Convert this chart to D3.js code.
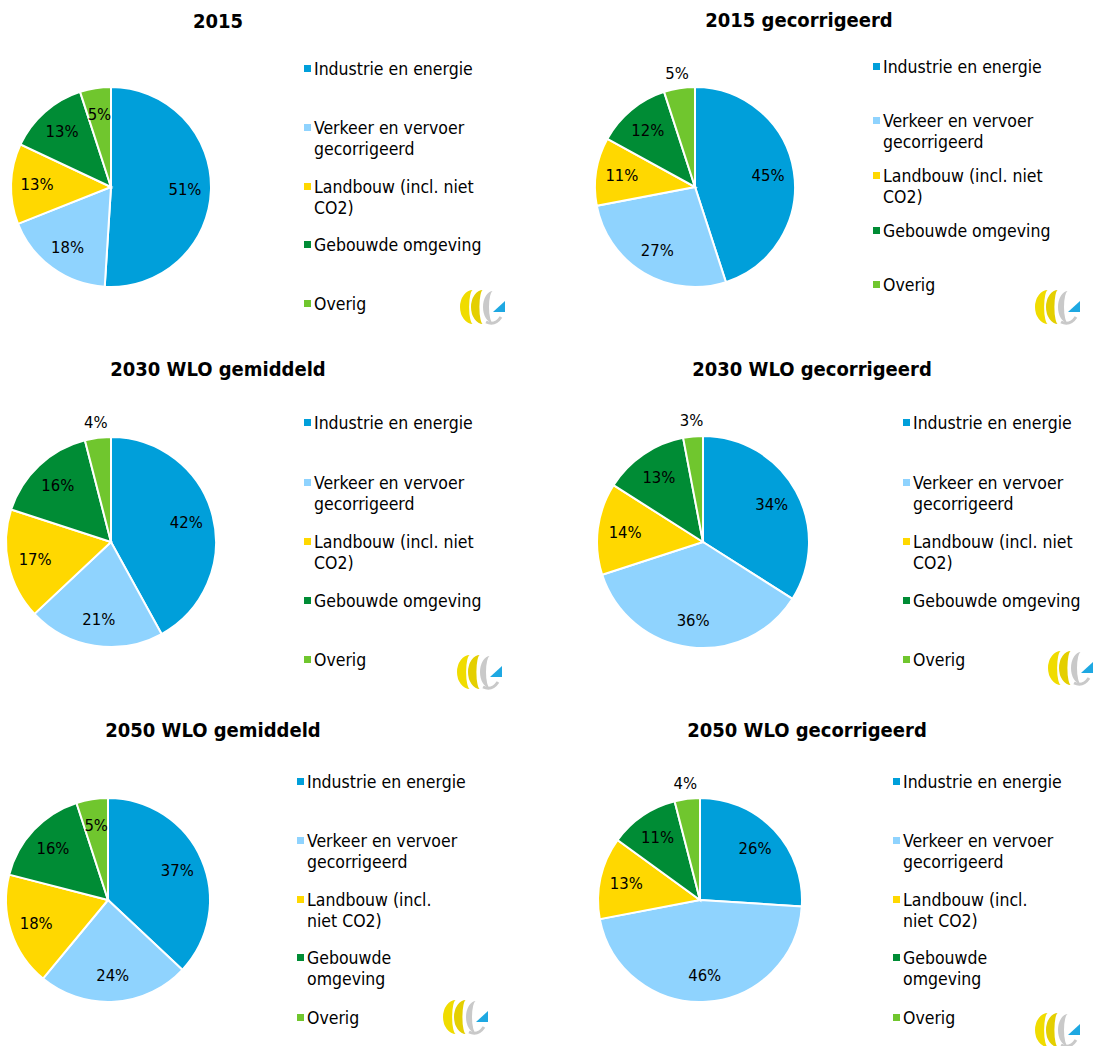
<!DOCTYPE html>
<html>
<head>
<meta charset="utf-8">
<script src="https://cdn.jsdelivr.net/npm/d3@7"></script>
<style>
  body { margin: 0; background: #fff; }
  svg text { font-family: "DejaVu Sans Condensed", "DejaVu Sans", sans-serif; fill: #000; }
</style>
</head>
<body>
<div id="chart"></div>
<script>
// categories (legend text, with the line breaks used in the source)
const categories = ['Industrie en energie', 'Verkeer en vervoer gecorrigeerd', 'Landbouw (incl. niet CO2)', 'Gebouwde omgeving', 'Overig'];
const legendLinesWide = [['Industrie en energie'], ['Verkeer en vervoer', 'gecorrigeerd'], ['Landbouw (incl. niet', 'CO2)'], ['Gebouwde omgeving'], ['Overig']];
const legendLinesNarrow = [['Industrie en energie'], ['Verkeer en vervoer', 'gecorrigeerd'], ['Landbouw (incl.', 'niet CO2)'], ['Gebouwde', 'omgeving'], ['Overig']];
const colors = ['#009fda', '#8fd3fe', '#ffd800', '#008c35', '#70c62e'];

const titles = ['2015', '2015 gecorrigeerd', '2030 WLO gemiddeld', '2030 WLO gecorrigeerd', '2050 WLO gemiddeld', '2050 WLO gecorrigeerd'];

// shares in %, order follows categories
const shares2015 = [51, 18, 13, 13, 5];
const shares2015Corr = [45, 27, 11, 12, 5];
const shares2030Avg = [42, 21, 17, 16, 4];
const shares2030Corr = [34, 36, 14, 13, 3];
const shares2050Avg = [37, 24, 18, 16, 5];
const shares2050Corr = [26, 46, 13, 11, 4];

// layout of each panel
const panels = [
  { title: titles[0], values: shares2015, cx: 111, cy: 187, r: 100, tx: 218, ty: 21,
    lx: 314, ly: [69, 128, 187, 245, 304], legend: legendLinesWide, outside: [], logo: [480, 307] },
  { title: titles[1], values: shares2015Corr, cx: 695, cy: 187, r: 100, tx: 799, ty: 20,
    lx: 883, ly: [67, 121, 176, 231, 285], legend: legendLinesWide, outside: [4], logo: [1055, 307] },
  { title: titles[2], values: shares2030Avg, cx: 111, cy: 542, r: 105, tx: 218, ty: 369,
    lx: 314, ly: [423, 483, 542, 601, 660], legend: legendLinesWide, outside: [4], logo: [477, 672] },
  { title: titles[3], values: shares2030Corr, cx: 703, cy: 542, r: 106, tx: 812, ty: 369,
    lx: 913, ly: [423, 483, 542, 601, 660], legend: legendLinesWide, outside: [4], logo: [1068, 668] },
  { title: titles[4], values: shares2050Avg, cx: 108, cy: 900, r: 102, tx: 213, ty: 730,
    lx: 307, ly: [782, 841, 900, 958, 1018], legend: legendLinesNarrow, outside: [], logo: [463, 1017] },
  { title: titles[5], values: shares2050Corr, cx: 700, cy: 900, r: 102, tx: 807, ty: 730,
    lx: 903, ly: [782, 841, 900, 958, 1018], legend: legendLinesNarrow, outside: [4], logo: [1055, 1030] }
];

const width = 1096, height = 1046;
const lineH = 21;

const svg = d3.select('#chart').append('svg')
  .attr('width', width)
  .attr('height', height);

const pie = d3.pie().sort(null).value(d => d);

// left-facing crescent: outer half ellipse, back along a thinner one
function crescent(cx, rx, ry, inner) {
  return 'M' + cx + ',' + (-ry) +
    ' A' + rx + ',' + ry + ' 0 0 0 ' + cx + ',' + ry +
    ' A' + (rx * inner) + ',' + ry + ' 0 0 1 ' + cx + ',' + (-ry) + ' Z';
}

function drawLogo(g) {
  // small decorative mark: two yellow crescents, a grey one and a blue triangle
  g.append('path').attr('d', crescent(-7, 13, 17, 0.3)).attr('fill', '#f0dc00');
  g.append('path').attr('d', crescent(3, 12, 17, 0.3)).attr('fill', '#e4cf00');
  g.append('path').attr('d', crescent(13, 10, 16, 0.4)).attr('fill', '#c9c9c9');
  g.append('path').attr('d', 'M6,15 Q15,19 21,10').attr('fill', 'none')
    .attr('stroke', '#c9c9c9').attr('stroke-width', 3);
  g.append('path').attr('d', 'M13,5 L25,5 L25,-6 Z').attr('fill', '#1ea8e2');
}

panels.forEach(p => {
  const g = svg.append('g');

  // title
  g.append('text')
    .attr('x', p.tx)
    .attr('y', p.ty)
    .attr('dy', '0.35em')
    .attr('text-anchor', 'middle')
    .style('font-weight', 'bold')
    .style('font-size', '20px')
    .text(p.title);

  // pie
  const arcs = pie(p.values);
  const arc = d3.arc().innerRadius(0).outerRadius(p.r);
  const inLabel = d3.arc().innerRadius(p.r * 0.74).outerRadius(p.r * 0.74);
  const outLabel = d3.arc().innerRadius(p.r * 1.15).outerRadius(p.r * 1.15);

  const pg = g.append('g').attr('transform', 'translate(' + p.cx + ',' + p.cy + ')');

  pg.selectAll('path')
    .data(arcs)
    .enter().append('path')
    .attr('d', arc)
    .attr('fill', (d, i) => colors[i])
    .attr('stroke', '#fff')
    .attr('stroke-width', 2);

  pg.selectAll('text')
    .data(arcs)
    .enter().append('text')
    .attr('transform', (d, i) => {
      const c = p.outside.includes(i) ? outLabel.centroid(d) : inLabel.centroid(d);
      return 'translate(' + c[0] + ',' + c[1] + ')';
    })
    .attr('dy', '0.35em')
    .attr('text-anchor', 'middle')
    .style('font-size', '16.5px')
    .text(d => d.data + '%');

  // legend
  const lg = g.append('g');
  categories.forEach((c, i) => {
    const item = lg.append('g');
    item.append('rect')
      .attr('x', p.lx - 10)
      .attr('y', p.ly[i] - 4)
      .attr('width', 7)
      .attr('height', 7)
      .attr('fill', colors[i]);
    item.append('text')
      .attr('x', p.lx)
      .attr('y', p.ly[i])
      .style('font-size', '17.5px')
      .selectAll('tspan')
      .data(p.legend[i])
      .enter().append('tspan')
      .attr('x', p.lx)
      .attr('dy', (d, j) => j === 0 ? '0.35em' : lineH + 'px')
      .text(d => d);
  });

  drawLogo(g.append('g').attr('transform', 'translate(' + p.logo[0] + ',' + p.logo[1] + ')'));
});
</script>
</body>
</html>
